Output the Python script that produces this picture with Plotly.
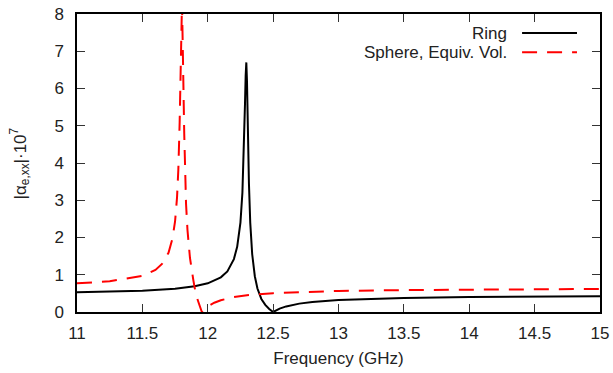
import plotly.graph_objects as go

# ---- data ----
ring_f = [11.0, 11.25, 11.5, 11.75, 11.9, 12.0, 12.1, 12.15, 12.2, 12.225, 12.25, 12.265,
          12.275, 12.285, 12.29, 12.295, 12.3, 12.305, 12.315, 12.325, 12.34, 12.36, 12.38,
          12.41, 12.44, 12.47, 12.5, 12.55, 12.6, 12.7, 12.8, 13.0, 13.25, 13.5, 14.0, 14.5, 15.0]
ring_v = [0.53, 0.545, 0.57, 0.625, 0.69, 0.77, 0.93, 1.09, 1.42, 1.75, 2.4, 3.2,
          4.15, 5.6, 6.35, 6.7, 6.2, 5.2, 3.45, 2.4, 1.55, 0.96, 0.63,
          0.35, 0.19, 0.08, 0.0, 0.09, 0.15, 0.225, 0.27, 0.322, 0.356, 0.376, 0.40, 0.412, 0.425]

sphere_f = [11.0, 11.25, 11.5, 11.6, 11.65, 11.7, 11.73, 11.75, 11.765, 11.775, 11.785, 11.793,
            11.798, 11.803, 11.808, 11.813, 11.82, 11.826, 11.834, 11.845, 11.864, 11.89, 11.91,
            11.935, 11.955, 11.98, 12.0, 12.05, 12.1, 12.2, 12.3, 12.5, 12.75, 13.0, 13.5, 14.0,
            14.5, 15.0]
sphere_v = [0.77, 0.825, 0.97, 1.13, 1.29, 1.59, 1.97, 2.43, 3.07, 3.82, 5.08, 6.58,
            7.65, 8.3, 7.3, 5.9, 4.8, 4.0, 2.9, 2.2, 1.45, 0.85, 0.46,
            0.2, 0.0, 0.09, 0.15, 0.25, 0.316, 0.40, 0.449, 0.506, 0.543, 0.565, 0.589, 0.602,
            0.61, 0.618]

x_ticks = [11, 11.5, 12, 12.5, 13, 13.5, 14, 14.5, 15]
y_ticks = [0, 1, 2, 3, 4, 5, 6, 7, 8]
legend_names = ["Ring", "Sphere, Equiv. Vol."]

FONT = "Liberation Sans, Arial, Helvetica, sans-serif"
TXT = "#222222"
FS = 17

fig = go.Figure()
fig.add_trace(go.Scatter(x=ring_f, y=ring_v, mode="lines", name=legend_names[0],
                         line=dict(color="black", width=2), showlegend=False))
fig.add_trace(go.Scatter(x=sphere_f, y=sphere_v, mode="lines", name=legend_names[1],
                         line=dict(color="#ff0000", width=2, dash="15px,10px"), showlegend=False))

axis_common = dict(showline=True, linecolor="black", linewidth=1.5, mirror="allticks",
                   ticks="inside", ticklen=8, tickwidth=1.3, tickcolor="#333333",
                   showgrid=False, zeroline=False, automargin=False,
                   tickfont=dict(family=FONT, size=FS, color=TXT))

fig.update_layout(
    width=613, height=373,
    margin=dict(l=77, r=13, t=14, b=61),
    paper_bgcolor="white", plot_bgcolor="white",
    xaxis=dict(range=[11, 15], tickvals=x_ticks, ticktext=[f"{t:g}" for t in x_ticks],
               ticklabelstandoff=5,
               title=dict(text="Frequency (GHz)", font=dict(family=FONT, size=FS, color=TXT),
                          standoff=10),
               **axis_common),
    yaxis=dict(range=[0, 8], tickvals=y_ticks, ticktext=[str(t) for t in y_ticks],
               ticklabelstandoff=8,
               **axis_common),
    font=dict(family=FONT, size=FS, color=TXT),
)

# y-axis title
fig.add_annotation(text="|α<sub>e,xx</sub>|·10<sup>7</sup>", xref="paper", yref="paper",
                   x=-0.11, y=0.5, xanchor="center", yanchor="middle", textangle=-90,
                   showarrow=False, font=dict(family=FONT, size=FS, color=TXT))

# gnuplot-style legend (text right aligned, sample line to the right)
rows = [(0.936, "black", "solid"), (0.872, "#ff0000", "15px,10px")]
for name, (yy, col, dsh) in zip(legend_names, rows):
    fig.add_annotation(text=name, xref="paper", yref="paper", x=0.826, y=yy,
                       xanchor="right", yanchor="middle", showarrow=False,
                       font=dict(family=FONT, size=FS, color=TXT))
    fig.add_shape(type="line", xref="paper", yref="paper", x0=0.851, x1=0.956, y0=yy, y1=yy,
                  line=dict(color=col, width=2, dash=dsh))

fig.write_html("out.html")
